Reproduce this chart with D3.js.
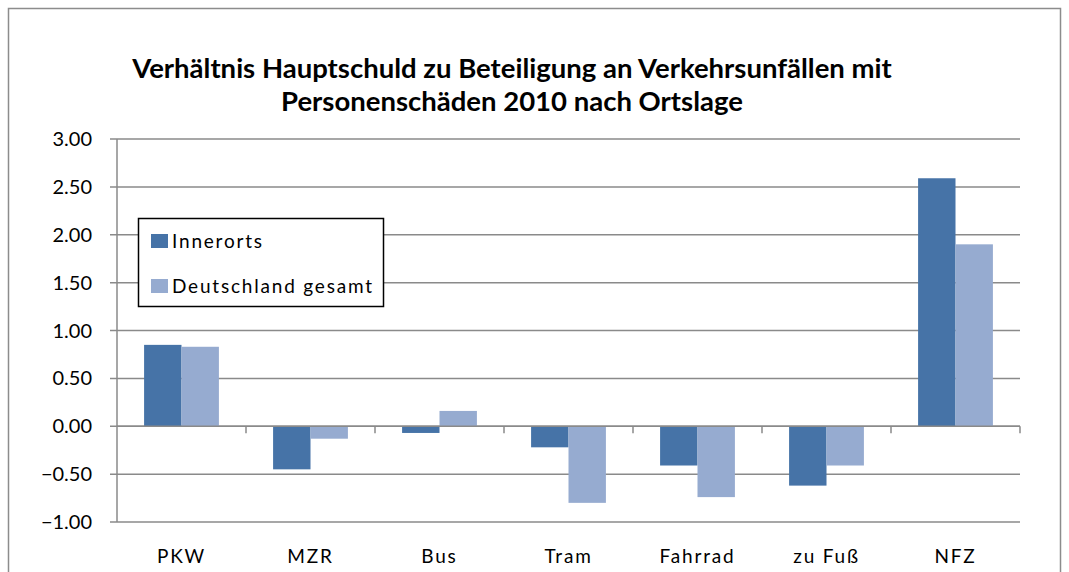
<!DOCTYPE html>
<html>
<head>
<meta charset="utf-8">
<script src="https://cdn.jsdelivr.net/npm/d3@7"></script>
<style>
  body { margin: 0; background: #fff; }
  svg { display: block; font-family: Lato, "Open Sans", sans-serif; }
</style>
</head>
<body>
<div id="chart"></div>
<script>
const categories = ["PKW", "MZR", "Bus", "Tram", "Fahrrad", "zu Fuß", "NFZ"];
const seriesNames = ["Innerorts", "Deutschland gesamt"];
const innerorts = [0.85, -0.45, -0.07, -0.22, -0.41, -0.62, 2.59];
const deutschland = [0.83, -0.13, 0.16, -0.80, -0.74, -0.41, 1.90];
const yTicks = [-1, -0.5, 0, 0.5, 1, 1.5, 2, 2.5, 3];
const colors = ["#4673a7", "#96abd0"];

const W = 1069, H = 572;
const margin = { top: 139, right: 49, bottom: 50, left: 117 };
const width = W - margin.left - margin.right;   // 903
const height = 522 - margin.top;               // 383

const svg = d3.select("#chart").append("svg")
  .attr("width", W).attr("height", H);

// outer chart border
svg.append("rect")
  .attr("x", 8.5).attr("y", 8.5)
  .attr("width", 1052).attr("height", 600)
  .attr("fill", "none").attr("stroke", "#8c8c8c").attr("stroke-width", 1.5);

// title
const title = svg.append("text")
  .attr("text-anchor", "middle")
  .attr("font-weight", "bold")
  .attr("font-size", 27.5)
  .attr("fill", "#000");
title.append("tspan").attr("x", 512).attr("y", 78)
  .text("Verhältnis Hauptschuld zu Beteiligung an Verkehrsunfällen mit");
title.append("tspan").attr("x", 512).attr("y", 111)
  .text("Personenschäden 2010 nach Ortslage");

const g = svg.append("g").attr("transform", `translate(${margin.left},${margin.top})`);

const x0 = d3.scaleBand().domain(categories).range([0, width]).padding(0);
const groupW = x0.bandwidth() * 0.58;
const x1 = d3.scaleBand().domain(seriesNames)
  .range([(x0.bandwidth() - groupW) / 2, (x0.bandwidth() + groupW) / 2]).padding(0);
const y = d3.scaleLinear().domain([-1, 3]).range([height, 0]);

// gridlines
g.append("g")
  .selectAll("line").data(yTicks).join("line")
  .attr("x1", -7).attr("x2", width)
  .attr("y1", d => y(d)).attr("y2", d => y(d))
  .attr("stroke", "#8a8a8a").attr("stroke-width", 1.5);

// y axis line
g.append("line")
  .attr("x1", 0).attr("x2", 0).attr("y1", 0).attr("y2", height)
  .attr("stroke", "#8a8a8a").attr("stroke-width", 1.5);

// y labels
g.append("g")
  .selectAll("text").data(yTicks).join("text")
  .attr("x", -25).attr("y", d => y(d))
  .attr("dy", "0.35em")
  .attr("text-anchor", "end")
  .attr("font-size", 20)
  .attr("fill", "#000")
  .text(d => d3.format(".2f")(d));

// bars
const seriesData = [innerorts, deutschland];
seriesNames.forEach((name, si) => {
  g.append("g").selectAll("rect")
    .data(categories.map((c, i) => ({ c, v: seriesData[si][i] })))
    .join("rect")
    .attr("x", d => x0(d.c) + x1(name))
    .attr("width", x1.bandwidth())
    .attr("y", d => y(Math.max(0, d.v)))
    .attr("height", d => Math.abs(y(d.v) - y(0)))
    .attr("fill", colors[si]);
});

// zero line with category ticks
g.append("line")
  .attr("x1", 0).attr("x2", width).attr("y1", y(0)).attr("y2", y(0))
  .attr("stroke", "#8a8a8a").attr("stroke-width", 1.5);
g.append("g").selectAll("line")
  .data(categories.slice(1).map(c => x0(c)).concat([width]))
  .join("line")
  .attr("x1", d => d).attr("x2", d => d)
  .attr("y1", y(0)).attr("y2", y(0) + 7)
  .attr("stroke", "#8a8a8a").attr("stroke-width", 1.5);

// category labels
g.append("g").selectAll("text").data(categories).join("text")
  .attr("x", d => x0(d) + x0.bandwidth() / 2)
  .attr("y", height + 41)
  .attr("text-anchor", "middle")
  .attr("font-size", 19)
  .attr("letter-spacing", 1.8)
  .attr("fill", "#000")
  .text(d => d);

// legend
const legend = svg.append("g").attr("transform", "translate(138,218)");
legend.append("rect")
  .attr("x", 0.5).attr("y", 0.5).attr("width", 245).attr("height", 88)
  .attr("fill", "#fff").attr("stroke", "#000").attr("stroke-width", 1.5);
seriesNames.forEach((name, i) => {
  const row = legend.append("g").attr("transform", `translate(13,${16 + i * 45})`);
  row.append("rect").attr("width", 17).attr("height", 14).attr("fill", colors[i]);
  row.append("text").attr("x", 21).attr("y", 7).attr("dy", "0.35em")
    .attr("font-size", 19).attr("letter-spacing", 1.8)
    .attr("fill", "#000").text(name);
});
</script>
</body>
</html>
